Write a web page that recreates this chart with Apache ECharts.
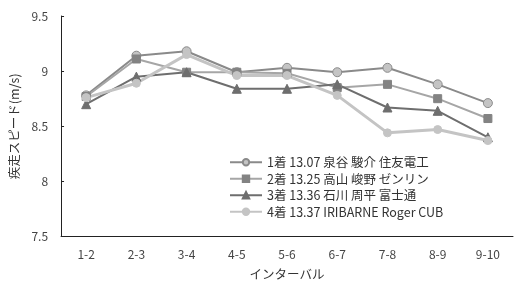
<!DOCTYPE html>
<html>
<head>
<meta charset="utf-8">
<script src="https://cdn.jsdelivr.net/npm/echarts@6/dist/echarts.min.js"></script>
<style>html,body{margin:0;padding:0;background:#fff}#chart{width:515px;height:286px}</style>
</head>
<body>
<div id="chart"></div>
<script>
var categories = ['1-2', '2-3', '3-4', '4-5', '5-6', '6-7', '7-8', '8-9', '9-10'];
var names = [
  '1着 13.07 泉谷 駿介 住友電工',
  '2着 13.25 高山 峻野 ゼンリン',
  '3着 13.36 石川 周平 富士通',
  '4着 13.37 IRIBARNE Roger CUB'
];
var speed1 = [8.78, 9.14, 9.18, 8.99, 9.03, 8.99, 9.03, 8.88, 8.71];
var speed2 = [8.77, 9.11, 8.99, 8.99, 8.98, 8.85, 8.88, 8.75, 8.57];
var speed3 = [8.70, 8.95, 8.99, 8.84, 8.84, 8.88, 8.67, 8.64, 8.40];
var speed4 = [8.76, 8.89, 9.15, 8.96, 8.96, 8.78, 8.44, 8.47, 8.37];

var font = '"Noto Sans CJK JP", "Noto Sans", sans-serif';

function line(name, data, lineColor, width, symbol, size, fill, border) {
  return {
    name: name,
    type: 'line',
    data: data,
    symbol: symbol,
    symbolSize: size,
    lineStyle: { color: lineColor, width: width },
    itemStyle: { color: fill, borderColor: border, borderWidth: 1 },
    animation: false
  };
}

var myChart = echarts.init(document.getElementById('chart'));
myChart.setOption({
  textStyle: { fontFamily: font },
  grid: { left: 59, right: 2, top: 16, bottom: 49 },
  legend: {
    orient: 'vertical',
    left: 224,
    top: 151,
    itemGap: 4,
    itemWidth: 32,
    itemHeight: 8,
    textStyle: { fontSize: 12.5, color: '#333', fontFamily: font },
    data: names
  },
  xAxis: {
    type: 'category',
    data: categories,
    boundaryGap: true,
    name: 'インターバル',
    nameLocation: 'middle',
    nameGap: 32,
    nameTextStyle: { fontSize: 12.5, color: '#333' },
    axisLine: { lineStyle: { color: '#222', width: 1 } },
    axisTick: { inside: true, length: 3, lineStyle: { color: '#222' } },
    axisLabel: { fontSize: 12, color: '#444', margin: 12 }
  },
  yAxis: {
    type: 'value',
    min: 7.5,
    max: 9.5,
    interval: 0.5,
    name: '疾走スピード(m/s)',
    nameLocation: 'middle',
    nameGap: 37,
    nameTextStyle: { fontSize: 12.5, color: '#333' },
    axisLine: { show: true, lineStyle: { color: '#222', width: 1 } },
    axisTick: { show: true, inside: true, length: 3, lineStyle: { color: '#222' } },
    splitLine: { show: false },
    axisLabel: { fontSize: 12, color: '#444', margin: 13 }
  },
  series: [
    line(names[0], speed1, '#8a8a8a', 2, 'circle', 9, '#c4c4c4', '#8a8a8a'),
    line(names[1], speed2, '#a6a6a6', 2, 'rect', 8, '#838383', '#838383'),
    line(names[2], speed3, '#6e6e6e', 2, 'triangle', 9, '#6e6e6e', '#6e6e6e'),
    line(names[3], speed4, '#c4c4c4', 3, 'circle', 8, '#c4c4c4', '#c4c4c4')
  ]
});
</script>
</body>
</html>
